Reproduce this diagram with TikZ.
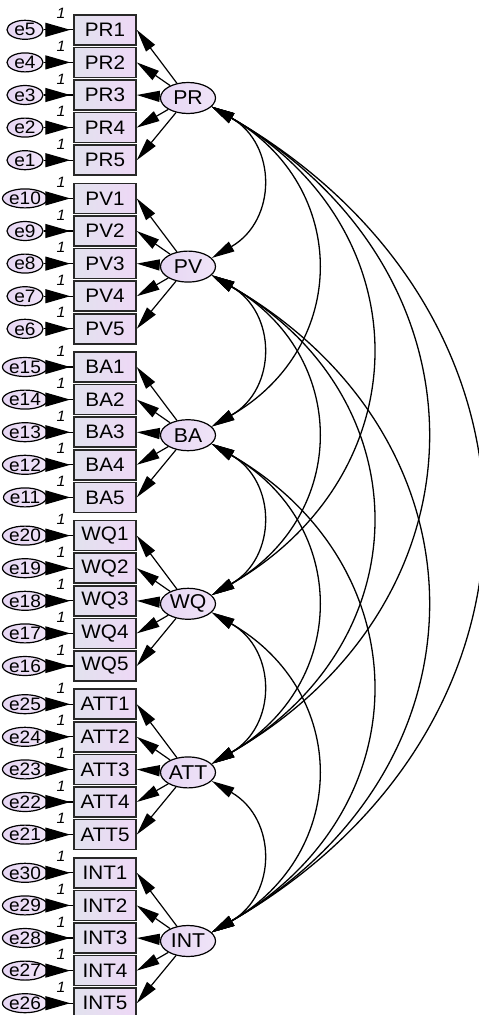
\documentclass[tikz,border=0pt]{standalone}
\usepackage{fontspec}
\newfontfamily\labelfont{Liberation Sans}[FakeStretch=1.06]
\usetikzlibrary{shapes.geometric,arrows.meta}
\definecolor{boxleft}{RGB}{226,226,238}
\definecolor{boxright}{RGB}{238,216,246}
\definecolor{ellleft}{RGB}{230,214,243}
\definecolor{ellright}{RGB}{240,228,248}
\definecolor{edge}{RGB}{40,40,40}
\begin{document}
\begin{tikzpicture}[x=1pt,y=1pt,
  obs/.style={rectangle, draw=edge, line width=1.5pt, minimum width=62pt, minimum height=30pt,
    inner sep=0pt, left color=boxleft, right color=boxright,
    font=\labelfont\fontsize{19.5}{19.5}\selectfont},
  lat/.style={ellipse, draw=black, line width=1.2pt, minimum width=55pt, minimum height=31pt,
    inner sep=0pt, left color=ellleft, right color=ellright,
    font=\labelfont\fontsize{20}{20}\selectfont},
  err/.style={ellipse, draw=black, line width=1.2pt, minimum width=36pt, minimum height=19pt,
    inner sep=0pt, left color=ellleft, right color=ellright,
    font=\labelfont\fontsize{18}{18}\selectfont},
  fixone/.style={inner sep=0pt, font=\labelfont\itshape\fontsize{15}{15}\selectfont},
  bigtip/.tip={Triangle[length=23pt,width=11pt]},
  errtip/.tip={Triangle[length=25pt,width=14pt]},
  load/.style={line width=1.2pt, -bigtip},
  errline/.style={line width=1.2pt},
  cov/.style={line width=1.3pt, bigtip-bigtip, out=-30, in=30, looseness=1.28}
]
\useasboundingbox (0,0) rectangle (479,-1015);

% measurement blocks: latent factor, five indicators, five error terms
\foreach \name [count=\gi from 0] in {PR,PV,BA,WQ,ATT,INT}{
  \pgfmathsetmacro\yc{-(95+168.6*\gi)}
  \node[lat] (\name) at (188,\yc-3) {\name};
  \foreach \k in {1,...,5}{
    \pgfmathsetmacro\yk{\yc-(\k-3)*32.6}
    \pgfmathtruncatemacro\en{5*\gi+6-\k}
    \node[obs] (\name\k) at (105,\yk) {\name\k};
    \node[err] (e\en) at (25,\yk) {e\en};
    \node[fixone] (one\en) at (61,\yk+16) {1};
    \draw[errline] (e\en.east) -- (\name\k.west);
    \draw[errline, -errtip, shorten >=3pt] (e\en.east) -- (\name\k.west);
    \draw[load] (\name) -- (\name\k.east);
  }
}

% covariances between all latent factors
\foreach \a/\b in {PR/PV,PR/BA,PR/WQ,PR/ATT,PR/INT,
                   PV/BA,PV/WQ,PV/ATT,PV/INT,
                   BA/WQ,BA/ATT,BA/INT,
                   WQ/ATT,WQ/INT,
                   ATT/INT}{
  \draw[cov] (\a.-20) to (\b.20);
}
\end{tikzpicture}
\end{document}
